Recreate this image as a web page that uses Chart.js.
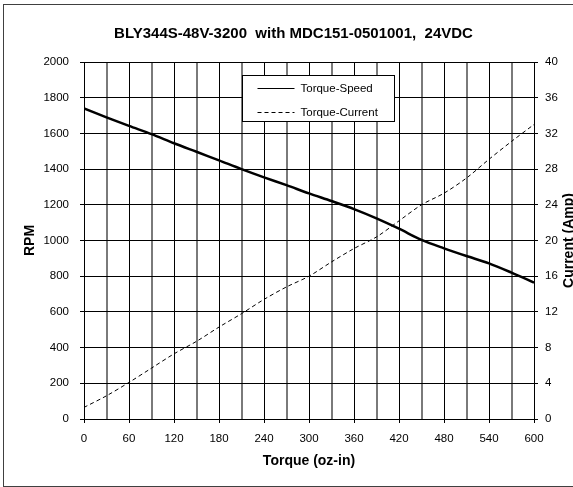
<!DOCTYPE html>
<html lang="en">
<head>
    <meta charset="UTF-8">
    <title>BLY344S-48V-3200 with MDC151-0501001, 24VDC</title>
    <script src="https://cdn.jsdelivr.net/npm/chart.js"></script>
    <style>
        html, body { margin: 0; padding: 0; background: #fff; }
        .chart-box { width: 573px; height: 487px; }
    </style>
</head>
<body>
    <div class="chart-box">
        <canvas id="torqueChart" width="573" height="487"></canvas>
    </div>
    <script>
        // Data
        const torque = [0, 30, 60, 90, 120, 150, 180, 210, 240, 270, 300, 330, 360, 390, 420, 450, 480, 510, 540, 570, 600];
        const speedRpm = [1740, 1690, 1642, 1596, 1545, 1497, 1449, 1400, 1354, 1310, 1264, 1221, 1176, 1124, 1066, 1003, 956, 913, 872, 820, 764];
        const currentAmp = [1.3, 2.6, 4.1, 5.7, 7.3, 8.7, 10.3, 11.8, 13.4, 14.8, 16.0, 17.6, 19.1, 20.4, 22.2, 24.0, 25.3, 27.0, 29.1, 31.1, 33.0];
        const seriesLabels = ['Torque-Speed', 'Torque-Current'];

        const FONT = "'Liberation Sans', Arial, Helvetica, sans-serif";
        Chart.defaults.font.family = FONT;
        Chart.defaults.color = '#000';

        const toPoints = (xs, ys) => xs.map((x, i) => ({ x: x, y: ys[i] }));

        // white background + outer frame
        const framePlugin = {
            id: 'frame',
            beforeDraw(chart) {
                const c = chart.ctx;
                c.save();
                c.fillStyle = '#fff';
                c.fillRect(0, 0, chart.width, chart.height);
                c.strokeStyle = '#404040';
                c.lineWidth = 1;
                c.strokeRect(3.5, 4.5, chart.width + 20, 482);
                c.restore();
            }
        };

        // legend box inside plot + right axis title (reads bottom to top)
        const extrasPlugin = {
            id: 'extras',
            afterDraw(chart) {
                const c = chart.ctx;
                const area = chart.chartArea;
                const bx = Math.round(area.left + 158) + 0.5;
                const by = Math.round(area.top + 13) + 0.5;
                c.save();
                c.fillStyle = '#fff';
                c.fillRect(bx, by, 152, 46);
                c.strokeStyle = '#000';
                c.lineWidth = 1;
                c.strokeRect(bx, by, 152, 46);

                c.font = '11.5px ' + FONT;
                c.textBaseline = 'middle';
                c.fillStyle = '#000';
                chart.data.datasets.forEach((ds, i) => {
                    const ly = Math.round(by + 12 + i * 24) + 0.5;
                    c.beginPath();
                    c.setLineDash(ds.borderDash || []);
                    c.strokeStyle = '#000';
                    c.lineWidth = 1;
                    c.moveTo(bx + 15, ly);
                    c.lineTo(bx + 52, ly);
                    c.stroke();
                    c.setLineDash([]);
                    c.fillText(ds.label, bx + 58, ly);
                });

                const y1 = chart.scales.y1;
                c.font = 'bold 14px ' + FONT;
                c.textAlign = 'center';
                c.textBaseline = 'middle';
                c.translate(569, (y1.top + y1.bottom) / 2);
                c.rotate(-Math.PI / 2);
                c.fillText('Current (Amp)', 0, 0);
                c.restore();
            }
        };

        const ctx = document.getElementById('torqueChart').getContext('2d');
        const chart = new Chart(ctx, {
            type: 'line',
            data: {
                datasets: [{
                    label: seriesLabels[0],
                    data: toPoints(torque, speedRpm),
                    yAxisID: 'y',
                    borderColor: '#000',
                    borderWidth: 2.5,
                    pointRadius: 0,
                    tension: 0.3,
                    fill: false
                }, {
                    label: seriesLabels[1],
                    data: toPoints(torque, currentAmp),
                    yAxisID: 'y1',
                    borderColor: '#000',
                    borderWidth: 1,
                    borderDash: [4, 3],
                    pointRadius: 0,
                    tension: 0.3,
                    fill: false
                }]
            },
            options: {
                responsive: false,
                animation: false,
                events: [],
                layout: { padding: { left: 14, right: 0, top: 0, bottom: 0 } },
                plugins: {
                    legend: { display: false },
                    tooltip: { enabled: false },
                    title: {
                        display: true,
                        text: 'BLY344S-48V-3200  with MDC151-0501001,  24VDC',
                        color: '#000',
                        font: { size: 15, weight: 'bold' },
                        padding: { top: 25, bottom: 19 }
                    }
                },
                scales: {
                    x: {
                        type: 'linear',
                        position: 'bottom',
                        min: 0,
                        max: 600,
                        afterFit: s => { s.height = 68; },
                        ticks: {
                            stepSize: 30,
                            autoSkip: false,
                            maxRotation: 0,
                            padding: 9,
                            font: { size: 11.5 },
                            color: '#000',
                            callback: v => (v % 60 === 0 ? String(v) : '')
                        },
                        grid: {
                            color: c => (c.tick && c.tick.value % 60 ? '#7a7a7a' : '#000'),
                            lineWidth: c => (c.tick && c.tick.value % 60 ? 2 : 1),
                            tickColor: c => (c.tick && c.tick.value % 60 ? 'rgba(0,0,0,0)' : '#000'),
                            tickLength: 4
                        },
                        border: { color: '#000', width: 1 },
                        title: {
                            display: true,
                            text: 'Torque (oz-in)',
                            color: '#000',
                            font: { size: 14, weight: 'bold' },
                            padding: { top: 0, bottom: 17 }
                        }
                    },
                    y: {
                        position: 'left',
                        min: 0,
                        max: 2000,
                        afterFit: s => { s.width = 70; },
                        ticks: { stepSize: 200, padding: 11, font: { size: 11.5 }, color: '#000', callback: v => String(v) },
                        grid: { color: '#000', tickColor: '#000', tickLength: 4 },
                        border: { color: '#000', width: 1 },
                        title: {
                            display: true,
                            text: 'RPM',
                            color: '#000',
                            font: { size: 14, weight: 'bold' },
                            padding: { top: 8, bottom: 0 }
                        }
                    },
                    y1: {
                        position: 'right',
                        min: 0,
                        max: 40,
                        afterFit: s => { s.width = 39; },
                        ticks: { stepSize: 4, padding: 7, font: { size: 11.5 }, color: '#000', callback: v => String(v) },
                        grid: { drawOnChartArea: false, color: '#000', tickColor: '#000', tickLength: 4 },
                        border: { color: '#000', width: 1 }
                    }
                }
            },
            plugins: [framePlugin, extrasPlugin]
        });
    </script>
</body>
</html>
